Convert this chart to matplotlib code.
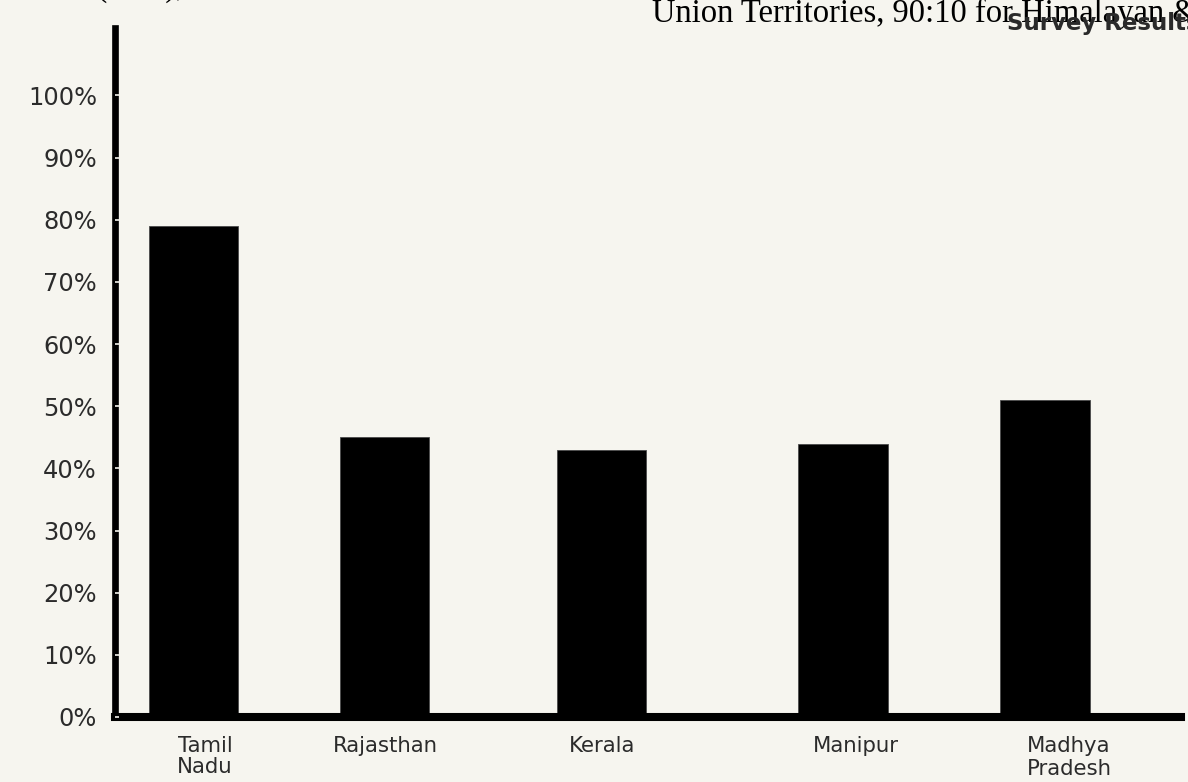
import numpy as np
import matplotlib
matplotlib.use("Agg")
import matplotlib.pyplot as plt

# survey results per state (percent)
states = ["Tamil\nNadu", "Rajasthan", "Kerala", "Manipur", "Madhya\nPradesh"]
values = [79, 45, 43, 44, 51]
y_ticks = [0, 10, 20, 30, 40, 50, 60, 70, 80, 90, 100]
y_tick_labels = ["%d%%" % t for t in y_ticks]

# layout (x axis runs 0..10)
bar_x = [0.738, 2.523, 4.551, 6.804, 8.692]
label_x = [0.841, 2.523, 4.551, 6.925, 8.916]
bar_w = 0.832
bg = "#f6f5ef"

W, H = 1188, 782
fig = plt.figure(figsize=(W / 100, H / 100), dpi=100, facecolor=bg)
ax = fig.add_axes([115 / W, 1 - 717 / H, 1066 / W, (717 - 28.3) / H])
ax.set_facecolor(bg)

ax.bar(bar_x, values, width=bar_w, color="black", edgecolor="#4a4a4a",
       linewidth=0.6, zorder=2)

ax.set_xlim(0, 9.963)
ax.set_ylim(0, 110.8)

# axes lines
for s in ["top", "right"]:
    ax.spines[s].set_visible(False)
ax.spines["left"].set_linewidth(4.8)
ax.spines["bottom"].set_linewidth(5.8)
for s in ["left", "bottom"]:
    ax.spines[s].set_color("black")
    ax.spines[s].set_capstyle("projecting")
    ax.spines[s].set_zorder(2.5)

ax.set_yticks(y_ticks)
ax.set_yticklabels(y_tick_labels)
ax.tick_params(axis="y", direction="in", length=3, width=1.2, color=bg,
               pad=13, labelsize=17.4, labelcolor="#2b2b2b")
ax.yaxis.set_zorder(3)

ax.set_xticks(label_x)
ax.set_xticklabels(states)
ax.tick_params(axis="x", length=0, pad=14, labelsize=15.3,
               labelcolor="#2b2b2b")
xl = ax.get_xticklabels()
xl[0].set_linespacing(1.02)
xl[4].set_linespacing(1.15)

# text fragments at the top of the screenshot
fig.text(184 / W, 1 + 4 / H, "Centrally Sponsored Schemes (CSS),",
         family="Liberation Serif", fontsize=23.5, color="black",
         ha="right", va="baseline")
fig.text(652 / W, 1 - 22 / H, "Union Territories, 90:10 for Himalayan & North-Eastern States",
         family="Liberation Serif", fontsize=23.5, color="black",
         ha="left", va="baseline", zorder=3)
fig.text(1007 / W, 1 - 30 / H, "Survey Results", family="DejaVu Sans",
         fontweight="bold", fontsize=16.5, color="#2a2a2a",
         ha="left", va="baseline", zorder=4)

fig.savefig("out.png", dpi=100, facecolor=bg)
